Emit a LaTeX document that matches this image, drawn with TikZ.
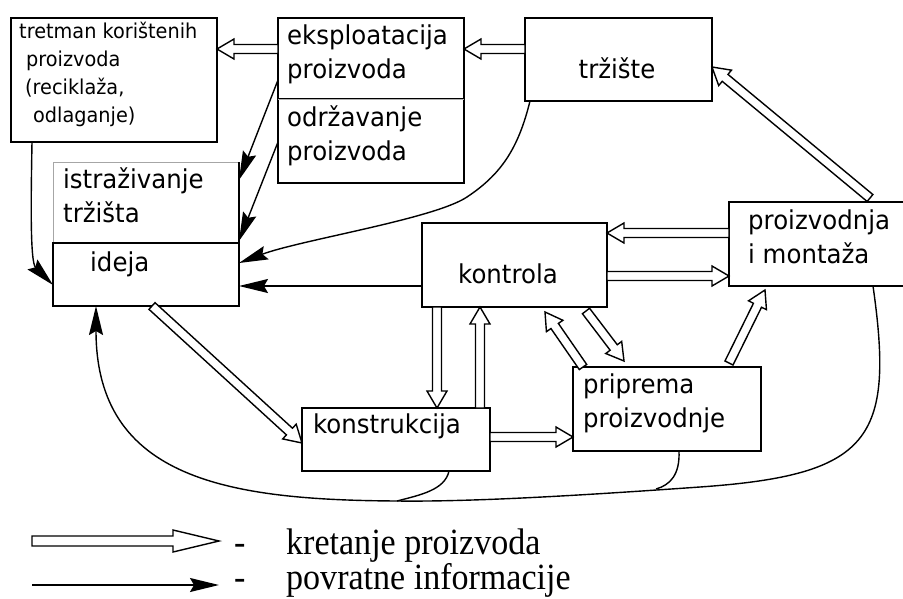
\documentclass[tikz,border=0pt]{standalone}
\usepackage{fontspec}
\setmainfont{Liberation Serif}
\newfontfamily\boxfont[FakeStretch=0.94]{DejaVu Sans}
\newfontfamily\legfont[FakeStretch=0.92]{Liberation Serif}
\usetikzlibrary{calc,arrows.meta}
\def\hw{4.5pt}\def\hW{10pt}\def\hl{17pt}
\newcommand\harrow[2]{\draw[hollow] ($(#1)!\hw!90:(#2)$) -- ($(#2)!\hl!(#1)!\hw!-90:(#1)$) -- ($(#2)!\hl!(#1)!\hW!-90:(#1)$) -- (#2) -- ($(#2)!\hl!(#1)!\hW!90:(#1)$) -- ($(#2)!\hl!(#1)!\hw!90:(#1)$) -- ($(#1)!\hw!-90:(#2)$) -- cycle;}
\newcommand\mkbox[6][]{\node[box,#1,minimum width={(#5-#3)*1pt},minimum height={(#6-#4)*1pt}] (#2) at ({(#3+#5)/2},{-(#4+#6)/2}) {};}
\begin{document}
\begin{tikzpicture}[x=1pt,y=1pt,
  box/.style={draw,line width=1.4pt,inner sep=0pt,outer sep=0pt},
  btxt/.style={font=\boxfont\fontsize{26}{33.5}\selectfont,inner sep=0pt,align=left},
  ttxt/.style={font=\boxfont\fontsize{20.5}{28}\selectfont,inner sep=0pt,align=left},
  ltxt/.style={font=\legfont\fontsize{37}{40}\selectfont,inner sep=0pt},
  hollow/.style={draw,line width=1.4pt,fill=white,line join=miter},
  fb/.style={line width=1.4pt,-{Stealth[length=29pt,width=14pt,inset=4pt]}}]
\useasboundingbox (0,0) rectangle (903,-598);
\fill[white] (0,0) rectangle (903,-598);
% boxes
\mkbox{tret}{11}{18}{217}{142}
\mkbox{odr}{278}{99}{464}{183}
\mkbox{eks}{278}{18}{464}{99}
\draw[gray!60,line width=0.8pt] (eks.south west) -- (eks.south east);
\mkbox[draw=gray!70,line width=0.8pt]{ist}{53}{162}{239}{243}
\draw[line width=1.4pt] (ist.north east) -- (ist.south east);
\mkbox{ideja}{53}{243}{239}{306}
\mkbox{trz}{525}{18}{712}{101}
\mkbox{kon}{422}{223}{607}{307}
\mkbox{prz}{729}{202}{910}{286}
\mkbox{kst}{302}{408}{490}{471}
\mkbox{pri}{573}{367}{761}{451}
% texts (base anchor = baseline of the last line)
\node[ttxt,anchor=base west] (tTre) at (19,-122) {tretman korištenih\\\hspace*{7pt}proizvoda\\\hspace*{6pt}(reciklaža,\\\hspace*{14pt}odlaganje)};
\node[btxt,anchor=base west] (tEks) at (287,-78) {eksploatacija\\proizvoda};
\node[btxt,anchor=base west] (tOdr) at (287,-160) {održavanje\\proizvoda};
\node[btxt,anchor=base west] (tIst) at (63,-222) {istraživanje\\tržišta};
\node[btxt,anchor=base west] (tIde) at (90,-271.5) {ideja};
\node[btxt,anchor=base] (tTrz) at (617,-78.5) {tržište};
\node[btxt,anchor=base] (tKon) at (508,-283.5) {kontrola};
\node[btxt,anchor=base west] (tPrz) at (748,-263) {proizvodnja\\i montaža};
\node[btxt,anchor=base west] (tKst) at (313,-433.5) {konstrukcija};
\node[btxt,anchor=base west] (tPri) at (583,-427) {priprema\\proizvodnje};
% hollow arrow end points
\coordinate (h1s) at ([yshift=10.5pt]trz.west);
\coordinate (h1e) at ([yshift=9.5pt]eks.east);
\coordinate (h2s) at ([yshift=9.5pt]eks.west);
\coordinate (h2e) at ([yshift=31pt]tret.east);
\coordinate (h3s) at ($(prz.north west)+(141,4)$);
\coordinate (h3e) at ([yshift=-7.5pt]trz.east);
\coordinate (h4s) at ([yshift=11pt]prz.west);
\coordinate (h4e) at ([yshift=32pt]kon.east);
\coordinate (h5s) at ([yshift=-11pt]kon.east);
\coordinate (h5e) at ([yshift=-32pt]prz.west);
\coordinate (h6s) at ($(ideja.south west)+(99,0)$);
\coordinate (h6e) at ([yshift=-3.5pt]kst.west);
\coordinate (h7s) at ([xshift=-77.5pt]kon.south);
\coordinate (h7e) at ([xshift=41pt]kst.north);
\coordinate (h8s) at ([xshift=84pt]kst.north);
\coordinate (h8e) at ([xshift=-34.5pt]kon.south);
\coordinate (h9s) at ([yshift=2.5pt]kst.east);
\coordinate (h9e) at ([yshift=-28pt]pri.west);
\coordinate (h10s) at ($(pri.north west)+(10,0)$);
\coordinate (h10e) at ($(kon.south west)+(123,-5)$);
\coordinate (h11s) at ($(kon.south west)+(164,-4)$);
\coordinate (h11e) at ($(pri.north west)+(51,6)$);
\coordinate (h12s) at ($(pri.north west)+(156,4)$);
\coordinate (h12e) at ($(prz.south west)+(36,-4)$);
\harrow{h1s}{h1e}
\harrow{h2s}{h2e}
\harrow{h3s}{h3e}
\harrow{h4s}{h4e}
\harrow{h5s}{h5e}
\harrow{h6s}{h6e}
\harrow{h7s}{h7e}
\harrow{h8s}{h8e}
\harrow{h9s}{h9e}
\harrow{h10s}{h10e}
\harrow{h11s}{h11e}
\harrow{h12s}{h12e}
% feedback arrows
\draw[fb] ([yshift=-21.5pt]eks.west) -- ([yshift=22.5pt]ist.east);
\draw[fb] ([yshift=-1pt]odr.west) -- ($(ist.south east)+(0,2)$);
\draw[fb] ($(trz.south west)+(5,0)$) .. controls (518,-150) and (500,-175) .. (467,-197) .. controls (434,-219) and (300,-240) .. ([yshift=11.5pt]ideja.east);
\draw[fb] ([yshift=-21pt]kon.west) -- ([yshift=-11.5pt]ideja.east);
\draw[fb] ($(tret.south west)+(21,0)$) .. controls (31,-200) and (30,-262) .. ([yshift=-10.5pt]ideja.west);
\coordinate (j1) at (397,-501);
\coordinate (j2) at (656,-489);
\draw[fb] ($(prz.south west)+(144,0)$) .. controls (895,-440) and (870,-475) .. (700,-487) .. controls (600,-494) and (480,-502) .. (j1) .. controls (230,-500) and (96,-480) .. ($(ideja.south west)+(43,0)$);
\draw[line width=1.4pt] ($(kst.south west)+(147,0)$) .. controls (445,-490) and (420,-495) .. (j1);
\draw[line width=1.4pt] ($(pri.south west)+(106,0)$) .. controls (680,-475) and (670,-485) .. (j2);
% legend
\coordinate (l1a) at (32,-541);
\coordinate (l1b) at (219,-541);
{\def\hl{46pt}\def\hW{11pt}\def\hw{5pt}\harrow{l1a}{l1b}}
\coordinate (l2a) at (32,-585);
\coordinate (l2b) at (219,-585);
\draw[fb] (l2a) -- (l2b);
\node[ltxt,anchor=base west] (lD1) at (234,-554) {-};
\node[ltxt,anchor=base west] (lT1) at (286,-554.5) {kretanje proizvoda};
\node[ltxt,anchor=base west] (lD2) at (234,-589) {-};
\node[ltxt,anchor=base west] (lT2) at (286,-589.5) {povratne informacije};
\end{tikzpicture}
\end{document}
